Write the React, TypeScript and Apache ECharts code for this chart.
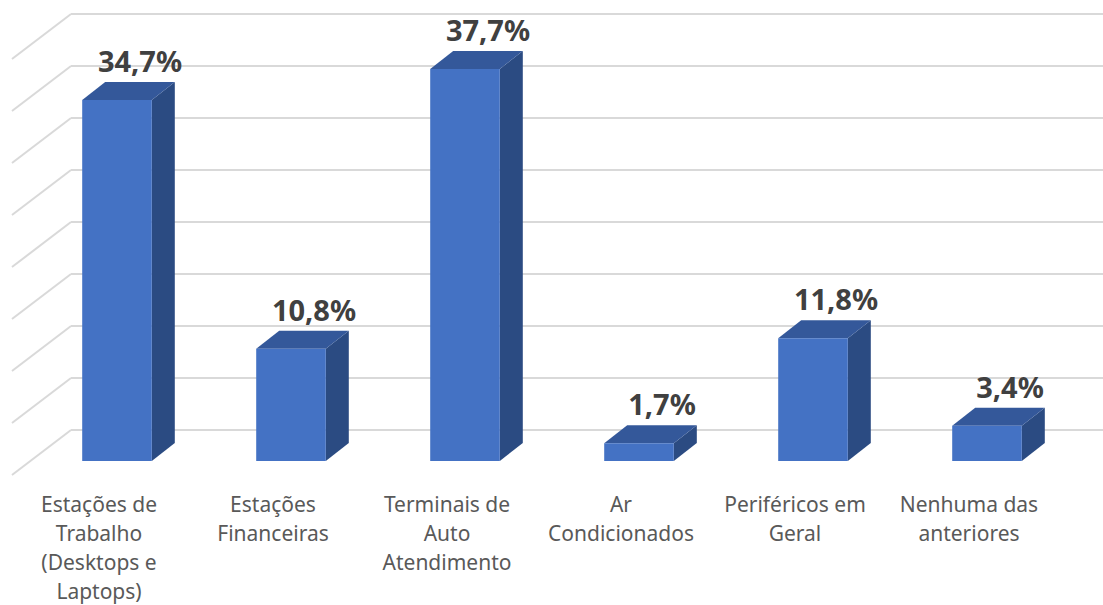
import React, { useEffect, useRef } from "react";
import * as echarts from "echarts";

const categories = [
  "Estações de\nTrabalho\n(Desktops e\nLaptops)",
  "Estações\nFinanceiras",
  "Terminais de\nAuto\nAtendimento",
  "Ar\nCondicionados",
  "Periféricos em\nGeral",
  "Nenhuma das\nanteriores",
];
const values = [34.7, 10.8, 37.7, 1.7, 11.8, 3.4];
const gridTicks = [0, 5, 10, 15, 20, 25, 30, 35, 40];

const FRONT = "#4472C4";
const TOP = "#34589A";
const SIDE = "#2B4B82";

export default function App() {
  const ref = useRef<HTMLDivElement>(null);
  useEffect(() => {
    document.body.style.margin = "0";
    const chart = echarts.init(ref.current!, null, { renderer: "svg" });
    const wallDx = 59, wallDy = -45;
    const frontDx = 18, frontDy = -14;
    const depthDx = 23, depthDy = -18;
    chart.setOption({
      animation: false,
      backgroundColor: "#ffffff",
      grid: {
        left: 12,
        right: 47,
        top: 59,
        bottom: 130,
        containLabel: false,
        outerBoundsMode: "none",
      },
      xAxis: {
        type: "category",
        data: categories,
        axisLine: { show: false },
        axisTick: { show: false },
        splitLine: { show: false },
        axisLabel: {
          interval: 0,
          margin: 14,
          color: "#595959",
          fontSize: 21,
          lineHeight: 29,
          fontFamily: "Noto Sans",
          align: "center",
        },
      },
      yAxis: {
        type: "value",
        min: 0,
        max: 40,
        interval: 5,
        show: false,
        splitLine: { show: false },
      },
      series: [
        {
          type: "custom",
          z: 1,
          silent: true,
          clip: false,
          data: gridTicks.map((v) => [0, v]),
          renderItem: (params: any, api: any) => {
            const cs = params.coordSys;
            const y = api.coord([0, api.value(1)])[1];
            const style = { stroke: "#d9d9d9", lineWidth: 2 };
            return {
              type: "group",
              children: [
                {
                  type: "line",
                  shape: { x1: cs.x, y1: y, x2: cs.x + wallDx, y2: y + wallDy },
                  style,
                },
                {
                  type: "line",
                  shape: { x1: cs.x + wallDx, y1: y + wallDy, x2: 1103, y2: y + wallDy },
                  style,
                },
              ],
            };
          },
        },
        {
          type: "custom",
          z: 5,
          clip: false,
          data: values.map((v, i) => [i, v]),
          renderItem: (params: any, api: any) => {
            const idx = api.value(0);
            const val = api.value(1);
            const base = api.coord([idx, 0]);
            const top = api.coord([idx, val]);
            const band = api.size([1, 0])[0];
            const w = band * 0.4;
            const x0 = base[0] - w / 2 + frontDx;
            const x1 = x0 + w;
            const yb = base[1] + frontDy;
            const yt = top[1] + frontDy;
            const label = val.toFixed(1).replace(".", ",") + "%";
            return {
              type: "group",
              children: [
                {
                  type: "polygon",
                  shape: {
                    points: [
                      [x1, yt],
                      [x1 + depthDx, yt + depthDy],
                      [x1 + depthDx, yb + depthDy],
                      [x1, yb],
                    ],
                  },
                  style: { fill: SIDE },
                },
                {
                  type: "polygon",
                  shape: {
                    points: [
                      [x0, yt],
                      [x1, yt],
                      [x1 + depthDx, yt + depthDy],
                      [x0 + depthDx, yt + depthDy],
                    ],
                  },
                  style: { fill: TOP },
                },
                {
                  type: "rect",
                  shape: { x: x0, y: yt, width: w, height: yb - yt },
                  style: { fill: FRONT },
                },
                {
                  type: "text",
                  x: x0 + w / 2 + 23,
                  y: yt + depthDy - 7,
                  style: {
                    text: label,
                    fill: "#404040",
                    font: "bold 29px 'Noto Sans'",
                    textAlign: "center",
                    textVerticalAlign: "bottom",
                  },
                },
              ],
            };
          },
        },
      ],
    });
    return () => chart.dispose();
  }, []);
  return <div ref={ref} style={{ width: 1103, height: 605 }} />;
}
